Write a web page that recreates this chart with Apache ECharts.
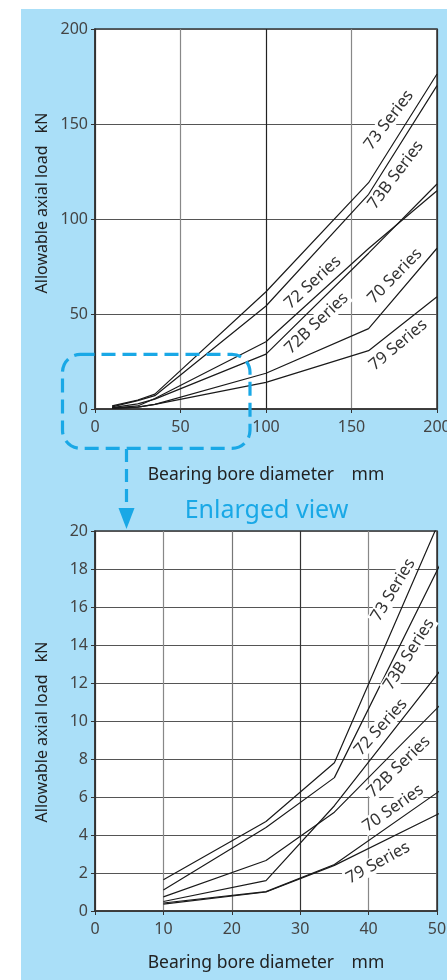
<!DOCTYPE html>
<html>
<head>
<meta charset="utf-8">
<script src="https://cdn.jsdelivr.net/npm/echarts@6/dist/echarts.min.js"></script>
<style>
html,body{margin:0;padding:0;background:#fff;}
#c{width:447px;height:980px;}
</style>
</head>
<body>
<div id="c"></div>
<script>
// ---- data ----
const boreDiameters = [10, 25, 35, 100, 160, 200];           // mm
const series73  = [1.65, 4.71, 7.8, 61.7, 119.1, 176.3];     // kN
const series73B = [1.1, 4.39, 7.02, 54.2, 113, 170.2];
const series72  = [0.5, 1.6, 5.54, 35.4, 84.5, 114.9];
const series72B = [0.74, 2.66, 5.2, 28.9, 82, 118.4];
const series70  = [0.42, 1.02, 2.45, 18.8, 42.3, 84.6];
const series79  = [0.36, 1.0, 2.4, 14.0, 30.7, 59.1];
const seriesNames = ['73 Series', '73B Series', '72 Series', '72B Series', '70 Series', '79 Series'];
const seriesValues = [series73, series73B, series72, series72B, series70, series79];

const topXTicks = [0, 50, 100, 150, 200];
const topYTicks = [0, 50, 100, 150, 200];
const zoomXTicks = [0, 10, 20, 30, 40, 50];
const zoomYTicks = [0, 2, 4, 6, 8, 10, 12, 14, 16, 18, 20];

const xName = 'Bearing bore diameter\u2002\u2002mm';
const yName = 'Allowable axial load\u2002 kN';
const enlargedText = 'Enlarged view';

// ---- label placement (layout, in data coordinates of each chart) ----
const topLabelPos = [
  {coord: [171.9, 152.1], rot: 52.7},
  {coord: [175.9, 123.2], rot: 53},
  {coord: [127.4, 66.6], rot: 42.5},
  {coord: [129.6, 45.1], rot: 43.5},
  {coord: [175.4, 70], rot: 45.8},
  {coord: [177.3, 33.7], rot: 40}
];
const zoomLabelPos = [
  {coord: [43.6, 16.9], rot: 59},
  {coord: [45.9, 13.5], rot: 57.8},
  {coord: [41.8, 9.68], rot: 48},
  {coord: [44.4, 7.59], rot: 44},
  {coord: [43.6, 5.41], rot: 35},
  {coord: [41.4, 2.54], rot: 28.7}
];

const FONT = '"Noto Sans", "Open Sans", sans-serif';
const BLUE = '#19a8e6';

function makeXAxis(gridIndex, ticks, lineColors) {
  return {
    type: 'value', gridIndex: gridIndex,
    min: ticks[0], max: ticks[ticks.length - 1], interval: ticks[1] - ticks[0],
    axisLine: {show: true, onZero: false, lineStyle: {color: '#333', width: 1.5}},
    axisTick: {show: true, inside: false, length: 4, lineStyle: {color: '#333'}},
    axisLabel: {margin: 10, fontFamily: FONT, fontSize: 16, color: '#444'},
    splitLine: {show: true, lineStyle: {color: lineColors, width: 1.2}}
  };
}
function makeYAxis(gridIndex, ticks) {
  return {
    type: 'value', gridIndex: gridIndex,
    min: ticks[0], max: ticks[ticks.length - 1], interval: ticks[1] - ticks[0],
    axisLine: {show: true, onZero: false, lineStyle: {color: '#333', width: 1.5}},
    axisTick: {show: true, inside: false, length: 4, lineStyle: {color: '#333'}},
    axisLabel: {margin: 7, fontFamily: FONT, fontSize: 16, color: '#444'},
    splitLine: {show: true, lineStyle: {color: '#555', width: 1.2}}
  };
}

const series = [];
[0, 1].forEach(function (g) {
  const labelPos = g === 0 ? topLabelPos : zoomLabelPos;
  seriesValues.forEach(function (vals, i) {
    series.push({
      type: 'line',
      name: seriesNames[i],
      xAxisIndex: g, yAxisIndex: g,
      data: boreDiameters.map(function (x, k) { return [x, vals[k]]; }),
      symbol: 'none',
      clip: true,
      lineStyle: {color: '#1a1a1a', width: 1.2},
      z: 3,
      markPoint: {
        symbol: 'circle', symbolSize: 1,
        itemStyle: {color: 'rgba(0,0,0,0)'},
        silent: true,
        z: 5,
        data: [{
          name: seriesNames[i],
          coord: labelPos[i].coord,
          label: {
            show: true, position: 'inside', formatter: '{b}',
            rotate: labelPos[i].rot,
            fontFamily: FONT, fontSize: 16.5, color: '#333',
            backgroundColor: '#fff', padding: [0, 2]
          }
        }]
      }
    });
  });
});

const chart = echarts.init(document.getElementById('c'), null, {renderer: 'canvas', width: 447, height: 980});
chart.setOption({
  backgroundColor: '#aadff8',
  animation: false,
  grid: [
    {left: 95, top: 29, width: 342, height: 380, show: true, backgroundColor: '#fff', borderColor: '#333', borderWidth: 1.5, containLabel: false, outerBoundsMode: 'none'},
    {left: 95, top: 531, width: 342, height: 380, show: true, backgroundColor: '#fff', borderColor: '#333', borderWidth: 1.5, containLabel: false, outerBoundsMode: 'none'}
  ],
  xAxis: [
    makeXAxis(0, topXTicks, ['#333', '#888', '#222', '#888', '#333']),
    makeXAxis(1, zoomXTicks, ['#333', '#888', '#777', '#333', '#888', '#333'])
  ],
  yAxis: [makeYAxis(0, topYTicks), makeYAxis(1, zoomYTicks)],
  series: series,
  graphic: [
    {type: 'rect', shape: {x: 0, y: 0, width: 447, height: 9}, style: {fill: '#fff'}, silent: true},
    {type: 'rect', shape: {x: 0, y: 0, width: 21, height: 980}, style: {fill: '#fff'}, silent: true},
    {type: 'text', x: 266, y: 475, style: {text: xName, font: '17.5px ' + FONT, fill: '#222', textAlign: 'center', textVerticalAlign: 'middle'}},
    {type: 'text', x: 266, y: 963, style: {text: xName, font: '17.5px ' + FONT, fill: '#222', textAlign: 'center', textVerticalAlign: 'middle'}},
    {type: 'text', x: 42, y: 203, rotation: Math.PI / 2, style: {text: yName, font: '16px ' + FONT, fill: '#222', textAlign: 'center', textVerticalAlign: 'middle'}},
    {type: 'text', x: 42, y: 732, rotation: Math.PI / 2, style: {text: yName, font: '16px ' + FONT, fill: '#222', textAlign: 'center', textVerticalAlign: 'middle'}},
    {type: 'text', x: 266.5, y: 511, style: {text: enlargedText, font: '25px ' + FONT, fill: BLUE, textAlign: 'center', textVerticalAlign: 'middle'}},
    {type: 'rect', z: 100, shape: {x: 62.5, y: 354.3, width: 187.5, height: 94, r: 18},
      style: {fill: 'none', stroke: BLUE, lineWidth: 3.2, lineDash: [14, 7]}, silent: true},
    {type: 'line', z: 100, shape: {x1: 126.5, y1: 449, x2: 126.5, y2: 512},
      style: {stroke: BLUE, lineWidth: 3.2, lineDash: [13, 7]}, silent: true},
    {type: 'polygon', z: 100, shape: {points: [[118.5, 508], [134.5, 508], [126.5, 529]]},
      style: {fill: BLUE}, silent: true}
  ]
});
</script>
</body>
</html>
